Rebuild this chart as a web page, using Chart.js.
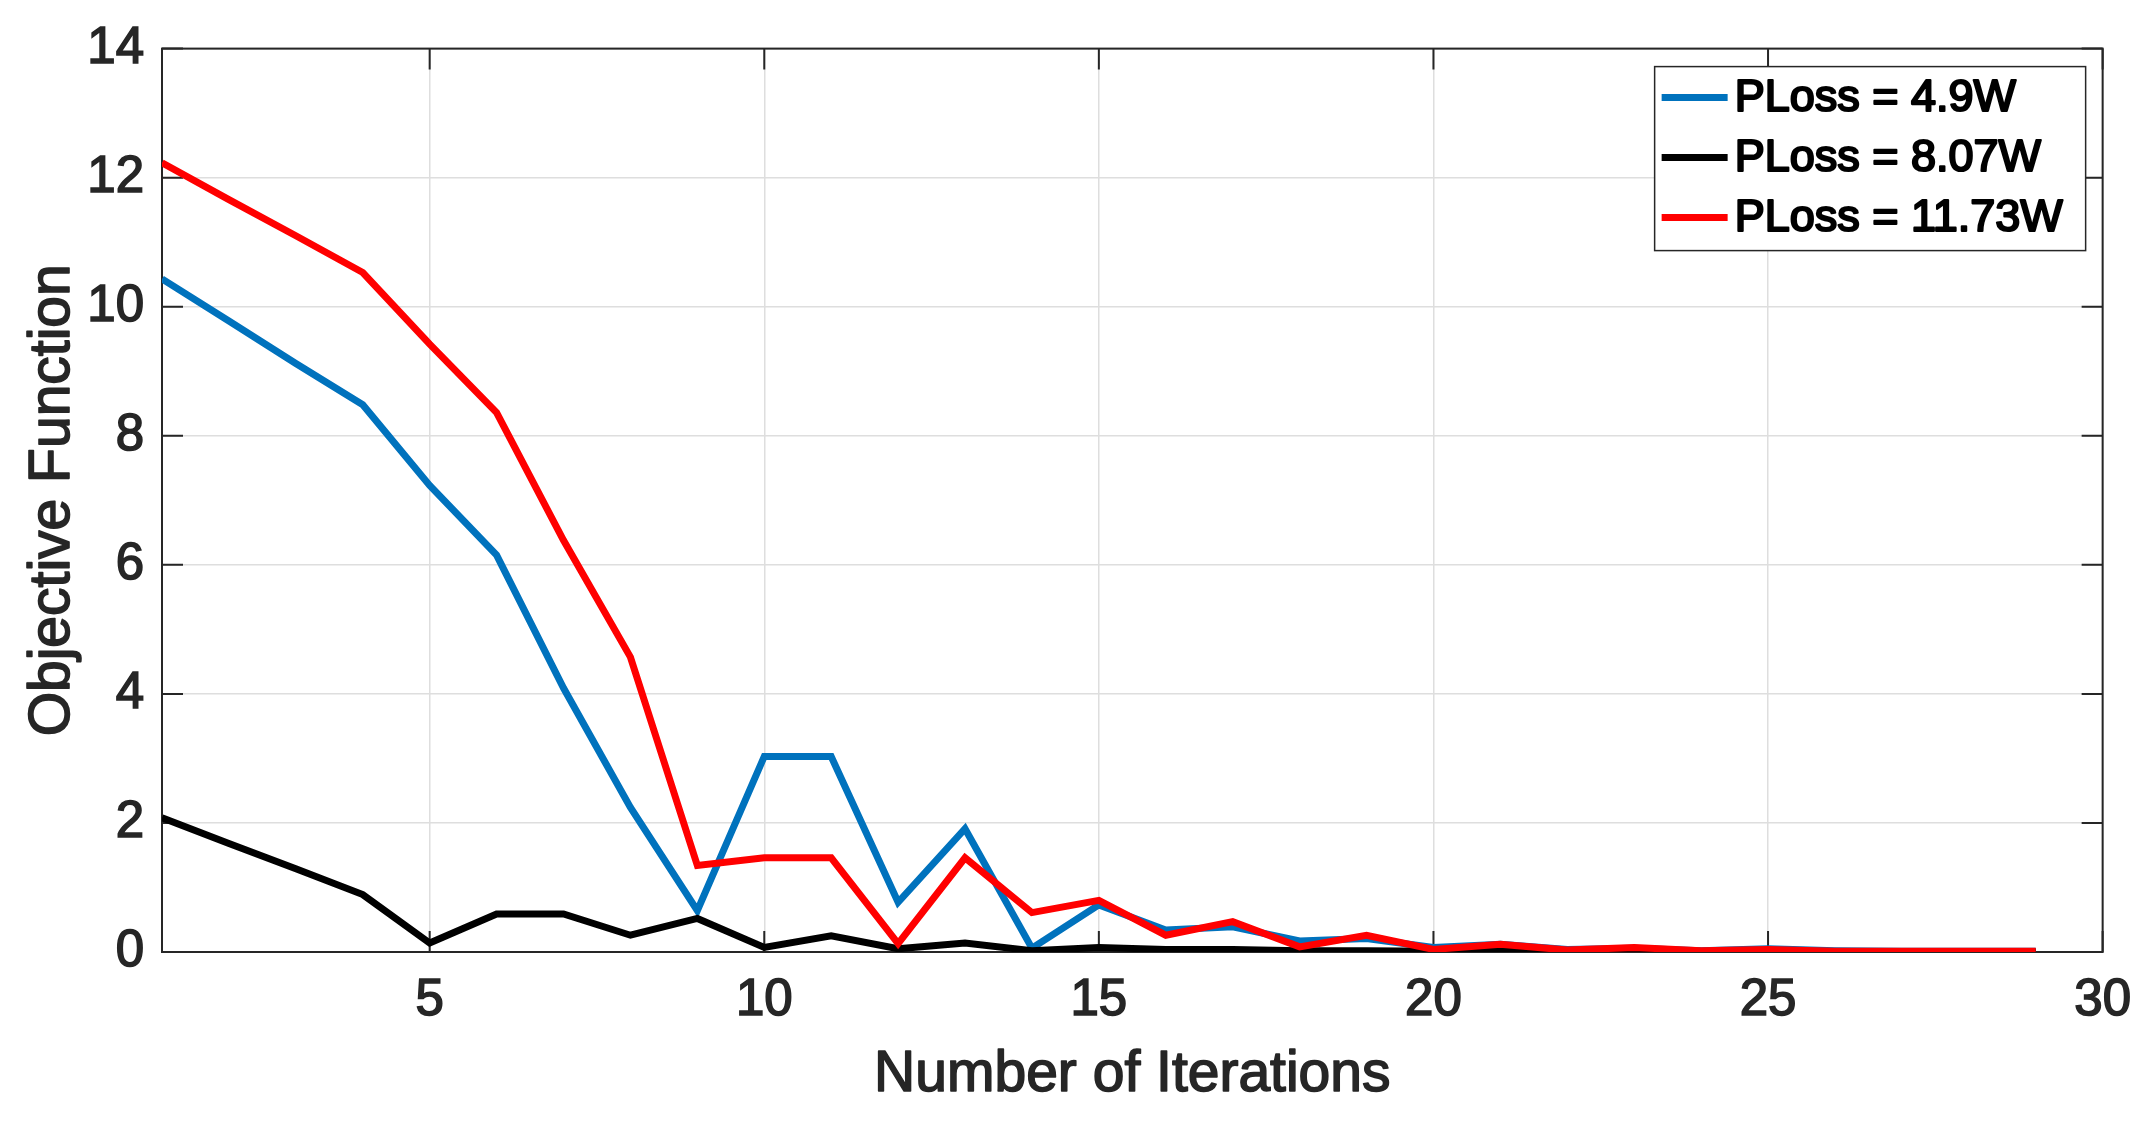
<!DOCTYPE html>
<html>
<head>
<meta charset="utf-8">
<title>Objective Function vs Number of Iterations</title>
<script src="https://cdn.jsdelivr.net/npm/chart.js@4.4.1/dist/chart.umd.min.js"></script>
<style>
  html, body { margin: 0; padding: 0; background: #fff; }
  #wrap { width: 2149px; height: 1125px; }
</style>
</head>
<body>
<div id="wrap"><canvas id="lossChart" width="2149" height="1125"></canvas></div>
<script>
const iterations = [1, 2, 3, 4, 5, 6, 7, 8, 9, 10, 11, 12, 13, 14, 15, 16, 17, 18, 19, 20, 21, 22, 23, 24, 25, 26, 27, 28, 29];
const ploss49 = [10.43, 9.78, 9.12, 8.48, 7.23, 6.15, 4.09, 2.24, 0.64, 3.03, 3.03, 0.77, 1.91, 0.06, 0.73, 0.34, 0.39, 0.17, 0.21, 0.07, 0.12, 0.04, 0.06, 0.02, 0.05, 0.02, 0.01, 0.01, 0.01];
const ploss807 = [2.08, 1.68, 1.29, 0.89, 0.14, 0.59, 0.59, 0.26, 0.52, 0.07, 0.25, 0.05, 0.14, 0.02, 0.07, 0.04, 0.04, 0.02, 0.02, 0.01, 0.01, 0, 0, 0, 0, 0, 0, 0, 0];
const ploss1173 = [12.23, 11.66, 11.1, 10.53, 9.42, 8.36, 6.38, 4.57, 1.34, 1.46, 1.46, 0.13, 1.46, 0.61, 0.8, 0.26, 0.47, 0.08, 0.26, 0.04, 0.12, 0.03, 0.07, 0.02, 0.04, 0.01, 0.01, 0.01, 0.01];
const seriesLabels = ['PLoss = 4.9W', 'PLoss = 8.07W', 'PLoss = 11.73W'];
const xTicks = [5, 10, 15, 20, 25, 30];
const yTicks = [0, 2, 4, 6, 8, 10, 12, 14];

const FONT = '"Liberation Sans", Arial, Helvetica, sans-serif';
const AXIS = '#262626';
const TICK_LEN = 21;
const TITLE_SIZE = 57;

function points(values) {
  return iterations.map((it, i) => ({ x: it, y: values[i] }));
}

// matlab style box with inward ticks on all four sides
const boxTicks = {
  id: 'boxTicks',
  beforeDatasetsDraw(chart) {
    const { ctx, chartArea: a, scales: { x, y } } = chart;
    ctx.save();
    ctx.strokeStyle = AXIS;
    ctx.lineWidth = 2;
    ctx.beginPath();
    x.ticks.forEach(t => {
      const px = x.getPixelForValue(t.value);
      ctx.moveTo(px, a.bottom); ctx.lineTo(px, a.bottom - TICK_LEN);
      ctx.moveTo(px, a.top); ctx.lineTo(px, a.top + TICK_LEN);
    });
    y.ticks.forEach(t => {
      const py = y.getPixelForValue(t.value);
      ctx.moveTo(a.left, py); ctx.lineTo(a.left + TICK_LEN, py);
      ctx.moveTo(a.right, py); ctx.lineTo(a.right - TICK_LEN, py);
    });
    ctx.stroke();
    ctx.strokeRect(a.left, a.top, a.right - a.left, a.bottom - a.top);
    ctx.restore();
  }
};

// the exported figure has heavier text, so outline the axis titles a little
const heavyTitles = {
  id: 'heavyTitles',
  afterDraw(chart) {
    const { ctx } = chart;
    ctx.save();
    ctx.font = TITLE_SIZE + 'px ' + FONT;
    ctx.strokeStyle = AXIS;
    ctx.lineWidth = 1.6;
    ctx.lineJoin = 'round';
    ctx.textAlign = 'center';
    ctx.textBaseline = 'middle';
    const half = TITLE_SIZE * 1.2 / 2;
    ['x', 'y'].forEach(id => {
      const s = chart.scales[id];
      const t = s.options.title;
      if (id === 'x') {
        ctx.strokeText(t.text, (s.left + s.right) / 2, s.bottom - half - t.padding.bottom);
      } else {
        ctx.save();
        ctx.translate(s.left + half + t.padding.top, (s.top + s.bottom) / 2);
        ctx.rotate(-Math.PI / 2);
        ctx.strokeText(t.text, 0, 0);
        ctx.restore();
      }
    });
    ctx.restore();
  }
};

// legend box in the upper right corner of the axes
const boxLegend = {
  id: 'boxLegend',
  afterDatasetsDraw(chart) {
    const { ctx, chartArea: a } = chart;
    const w = 431, h = 184;
    const left = a.right - 17 - w, top = a.top + 18;
    ctx.save();
    ctx.fillStyle = '#fff';
    ctx.fillRect(left, top, w, h);
    ctx.strokeStyle = AXIS;
    ctx.lineWidth = 1.5;
    ctx.strokeRect(left, top, w, h);
    ctx.font = '45px ' + FONT;
    ctx.textBaseline = 'middle';
    ctx.textAlign = 'left';
    ctx.lineJoin = 'round';
    chart.data.datasets.forEach((ds, i) => {
      const cy = top + 31 + i * 60;
      ctx.strokeStyle = ds.borderColor;
      ctx.lineWidth = 7;
      ctx.beginPath();
      ctx.moveTo(left + 7, cy);
      ctx.lineTo(left + 73, cy);
      ctx.stroke();
      ctx.fillStyle = '#000';
      ctx.strokeStyle = '#000';
      ctx.lineWidth = 2.2;
      ctx.fillText(ds.label, left + 80, cy + 1);
      ctx.strokeText(ds.label, left + 80, cy + 1);
    });
    ctx.restore();
  }
};

const tickOpts = {
  padding: 18,
  color: AXIS,
  textStrokeColor: AXIS,
  textStrokeWidth: 1.6,
  font: { family: FONT, size: 51 }
};

const ctx = document.getElementById('lossChart').getContext('2d');
const lossChart = new Chart(ctx, {
  type: 'line',
  data: {
    datasets: [
      { label: seriesLabels[0], data: points(ploss49), borderColor: '#0072BD', order: 3 },
      { label: seriesLabels[1], data: points(ploss807), borderColor: '#000000', order: 2 },
      { label: seriesLabels[2], data: points(ploss1173), borderColor: '#FF0000', order: 1 }
    ]
  },
  options: {
    responsive: false,
    devicePixelRatio: 1,
    animation: false,
    layout: { padding: { top: 45, right: 45, left: 0, bottom: 0 } },
    elements: {
      line: { borderWidth: 7, tension: 0, fill: false },
      point: { radius: 0, hoverRadius: 0 }
    },
    plugins: { legend: { display: false }, tooltip: { enabled: false } },
    scales: {
      x: {
        type: 'linear',
        min: 1,
        max: 30,
        afterBuildTicks: s => { s.ticks = xTicks.map(v => ({ value: v })); },
        afterFit: s => { s.height = 173; },
        grid: { color: '#dedede', lineWidth: 1.5, drawTicks: false },
        border: { display: false },
        ticks: tickOpts,
        title: {
          display: true,
          text: 'Number of Iterations',
          color: AXIS,
          font: { family: FONT, size: TITLE_SIZE },
          padding: { top: 0, bottom: 16 }
        }
      },
      y: {
        min: 0,
        max: 14,
        afterBuildTicks: s => { s.ticks = yTicks.map(v => ({ value: v })); },
        afterFit: s => { s.width = 162; },
        grid: { color: '#dedede', lineWidth: 1.5, drawTicks: false },
        border: { display: false },
        ticks: tickOpts,
        title: {
          display: true,
          text: 'Objective Function',
          color: AXIS,
          font: { family: FONT, size: TITLE_SIZE },
          padding: { top: 19, bottom: 0 }
        }
      }
    }
  },
  plugins: [boxTicks, boxLegend, heavyTitles]
});
</script>
</body>
</html>
